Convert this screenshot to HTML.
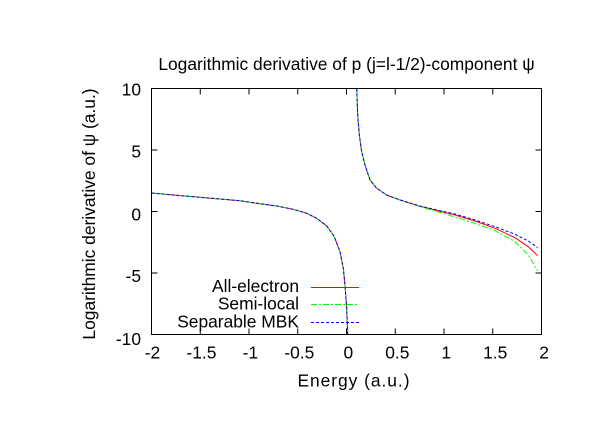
<!DOCTYPE html>
<html>
<head>
<meta charset="utf-8">
<style>
html,body{margin:0;padding:0;background:#fff;}
svg{display:block;}
text{font-family:"Liberation Sans",Arial,sans-serif;font-size:17.4px;fill:#000;}
</style>
</head>
<body>
<svg width="612" height="428" viewBox="0 0 612 428" xmlns="http://www.w3.org/2000/svg">
<rect x="0" y="0" width="612" height="428" fill="#fff"/>

<!-- title -->
<text x="346.5" y="70" text-anchor="middle">Logarithmic derivative of p (j=l-1/2)-component ψ</text>

<!-- frame -->
<rect x="151.5" y="88.5" width="390" height="246" fill="none" stroke="#000" stroke-width="1"/>

<!-- x ticks -->
<g stroke="#000" stroke-width="1">
<line x1="200.25" y1="334.5" x2="200.25" y2="328.5"/><line x1="200.25" y1="88.5" x2="200.25" y2="94.5"/>
<line x1="249" y1="334.5" x2="249" y2="328.5"/><line x1="249" y1="88.5" x2="249" y2="94.5"/>
<line x1="297.75" y1="334.5" x2="297.75" y2="328.5"/><line x1="297.75" y1="88.5" x2="297.75" y2="94.5"/>
<line x1="346.5" y1="334.5" x2="346.5" y2="328.5"/><line x1="346.5" y1="88.5" x2="346.5" y2="94.5"/>
<line x1="395.25" y1="334.5" x2="395.25" y2="328.5"/><line x1="395.25" y1="88.5" x2="395.25" y2="94.5"/>
<line x1="444" y1="334.5" x2="444" y2="328.5"/><line x1="444" y1="88.5" x2="444" y2="94.5"/>
<line x1="492.75" y1="334.5" x2="492.75" y2="328.5"/><line x1="492.75" y1="88.5" x2="492.75" y2="94.5"/>
<!-- y ticks -->
<line x1="151.5" y1="150" x2="157.5" y2="150"/><line x1="541.5" y1="150" x2="535.5" y2="150"/>
<line x1="151.5" y1="211.5" x2="157.5" y2="211.5"/><line x1="541.5" y1="211.5" x2="535.5" y2="211.5"/>
<line x1="151.5" y1="273" x2="157.5" y2="273"/><line x1="541.5" y1="273" x2="535.5" y2="273"/>
</g>

<!-- y tick labels -->
<g text-anchor="end">
<text x="141" y="95.5">10</text>
<text x="141" y="157.5">5</text>
<text x="141" y="220.3">0</text>
<text x="141" y="281.8">-5</text>
<text x="141" y="345">-10</text>
</g>

<!-- x tick labels -->
<g text-anchor="middle">
<text x="152.5" y="358.5">-2</text>
<text x="201.4" y="358.5">-1.5</text>
<text x="250.4" y="358.5">-1</text>
<text x="299.3" y="358.5">-0.5</text>
<text x="348.3" y="358.5">0</text>
<text x="397.3" y="358.5">0.5</text>
<text x="446.2" y="358.5">1</text>
<text x="495.2" y="358.5">1.5</text>
<text x="544.1" y="358.5">2</text>
</g>

<!-- axis labels -->
<text x="297.5" y="386.5" textLength="112" lengthAdjust="spacing">Energy (a.u.)</text>
<text transform="translate(95,214) rotate(-90)" text-anchor="middle">Logarithmic derivative of ψ (a.u.)</text>

<!-- curves -->
<g fill="none" stroke-width="1">
<!-- red -->
<polyline stroke="#ff0000" points="151.5,193 173.3,195 196.7,197 216.7,198.7 240,200.7 256.7,203.3 276.7,206 293.3,209.3 306.7,213.3 316.7,218.3 326.7,226 334,236 340,251.7 343.3,268.3 345,285 346.7,308.3 347.7,334"/>
<polyline stroke="#ff0000" points="356.7,88.5 357.7,115 359.3,135 361.7,151.7 365,165 370,180 376.7,188.3 386.7,195 400,200 419,206 435,210 455,215 475,221 495,228.3 515,237.7 528.3,246.7 537.7,255.7"/>
<!-- green -->
<polyline stroke="#00ff00" stroke-dasharray="6,2,2,2" points="151.5,193 173.3,195 196.7,197 216.7,198.7 240,200.7 256.7,203.3 276.7,206 293.3,209.3 306.7,213.3 316.7,218.3 326.7,226 334,236 340,251.7 343.3,268.3 345,285 346.7,308.3 347.7,334"/>
<polyline stroke="#00ff00" stroke-dasharray="6,2,2,2" points="356.7,88.5 357.7,115 359.3,135 361.7,151.7 365,165 370,180 376.7,188.3 386.7,195 400,200 419,206.3 435,211 455,217 475,223.3 495,230.7 515,241.7 528.3,255 537.7,271"/>
<!-- blue -->
<polyline stroke="#0000ff" stroke-dasharray="3,2" points="151.5,193 173.3,195 196.7,197 216.7,198.7 240,200.7 256.7,203.3 276.7,206 293.3,209.3 306.7,213.3 316.7,218.3 326.7,226 334,236 340,251.7 343.3,268.3 345,285 346.7,308.3 347.7,334"/>
<polyline stroke="#0000ff" stroke-dasharray="3,2" points="356.7,88.5 357.7,115 359.3,135 361.7,151.7 365,165 370,180 376.7,188.3 386.7,195 400,200 419,205.8 435,209.5 455,214 475,220 495,226.7 515,234.3 528.3,241 537.7,247.5"/>
</g>

<!-- legend -->
<g text-anchor="end">
<text x="299" y="292">All-electron</text>
<text x="299" y="309.7">Semi-local</text>
<text x="299" y="327.3">Separable MBK</text>
</g>
<line x1="311" y1="287.5" x2="359" y2="287.5" stroke="#ff0000" stroke-width="1"/>
<line x1="311" y1="304.5" x2="359" y2="304.5" stroke="#00ff00" stroke-width="1" stroke-dasharray="6,2,2,2"/>
<line x1="311" y1="322.5" x2="359" y2="322.5" stroke="#0000ff" stroke-width="1" stroke-dasharray="3,2"/>
</svg>
</body>
</html>
